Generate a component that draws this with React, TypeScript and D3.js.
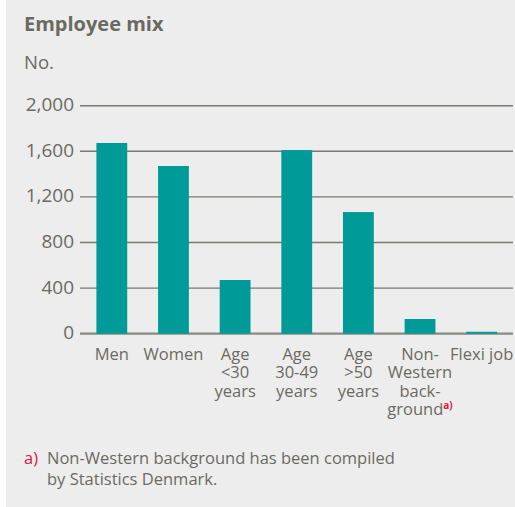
import React from "react";
import * as d3 from "d3";

const categories = ["Men", "Women", "Age <30 years", "Age 30-49 years", "Age >50 years", "Non-Western background", "Flexi job"];
const categoryLines: string[][] = [
  ["Men"],
  ["Women"],
  ["Age", "<30", "years"],
  ["Age", "30-49", "years"],
  ["Age", ">50", "years"],
  ["Non-", "Western", "back-", "ground"],
  ["Flexi job"],
];
const values = [1673, 1471, 471, 1611, 1067, 129, 17];
const yTicks = [0, 400, 800, 1200, 1600, 2000];

const W = 515;
const H = 507;
const FONT = "'Open Sans', 'Noto Sans', sans-serif";
const TEXT = "#6b6a62";
const TEAL = "#009b98";
const RED = "#e2163d";

export default function App() {
  const x = d3.scaleBand<string>().domain(categories).range([81, 512.5]).paddingInner(0.5).paddingOuter(0.25);
  const y = d3.scaleLinear().domain([0, 2000]).range([333.7, 105.7]);
  const fmt = d3.format(",");
  return (
    <svg width={W} height={H} style={{ position: "absolute", left: 0, top: 0 }} fontFamily={FONT}>
      <rect x={6} y={0} width={W - 6} height={H} fill="#ededed" />
      <text x={24} y={31} fontSize={20} fontWeight={700} fill={TEXT}>Employee mix</text>
      <text x={24} y={69} fontSize={18.5} fill={TEXT}>No.</text>
      {yTicks.map((t) => (
        <g key={t}>
          <line x1={80} x2={513} y1={y(t)} y2={y(t)} stroke={t === 0 ? "#8a8984" : "#7a7972"} strokeWidth={t === 0 ? 2.2 : 1.4} />
          <text x={74} y={y(t) + 5.5} fontSize={19} fill={TEXT} textAnchor="end">{fmt(t)}</text>
        </g>
      ))}
      {categories.map((c, i) => (
        <rect key={c} x={x(c)} y={y(values[i])} width={x.bandwidth()} height={y(0) - y(values[i])} fill={TEAL} />
      ))}
      {categories.map((c, i) => {
        const cx = (x(c) as number) + x.bandwidth() / 2;
        return (
          <g key={c}>
            {categoryLines[i].map((ln, j) => (
              <text key={j} x={cx} y={360 + j * 18.4} fontSize={16.5} fill={TEXT} textAnchor="middle">
                {ln}
                {i === 5 && j === 3 ? (
                  <tspan fontSize={10} fontWeight={700} fill={RED} dy={-6}>a)</tspan>
                ) : null}
              </text>
            ))}
          </g>
        );
      })}
      <text x={24} y={464} fontSize={16.5} fill={RED}>a)</text>
      <text x={47} y={464} fontSize={16.5} fill={TEXT}>Non-Western background has been compiled</text>
      <text x={47} y={485} fontSize={16.5} fill={TEXT}>by Statistics Denmark.</text>
    </svg>
  );
}
